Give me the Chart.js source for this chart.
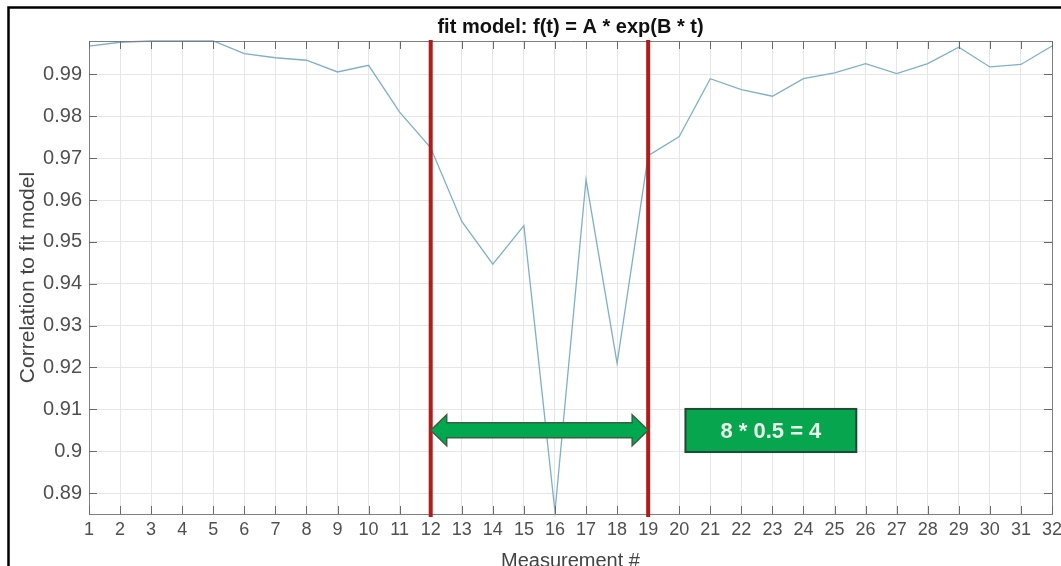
<!DOCTYPE html>
<html>
<head>
<meta charset="utf-8">
<title>fit model</title>
<script src="https://cdn.jsdelivr.net/npm/chart.js@4.4.1/dist/chart.umd.min.js"></script>
<style>
  html, body { margin: 0; padding: 0; background: #fff; }
  #wrap { width: 1061px; height: 566px; }
</style>
</head>
<body>
<div id="wrap"><canvas id="chart" width="1061" height="566"></canvas></div>
<script>
const measurements = [1, 2, 3, 4, 5, 6, 7, 8, 9, 10, 11, 12, 13, 14, 15, 16,
    17, 18, 19, 20, 21, 22, 23, 24, 25, 26, 27, 28, 29, 30, 31, 32];
const correlation = [0.9968, 0.9977, 0.9980, 0.9980, 0.9980, 0.9950, 0.9940, 0.9934,
    0.9906, 0.9922, 0.9810, 0.9725, 0.9549, 0.9447, 0.9539, 0.8856,
    0.9649, 0.9210, 0.9706, 0.9752, 0.9890, 0.9864, 0.9848, 0.9890,
    0.9904, 0.9926, 0.9902, 0.9926, 0.9965, 0.9918, 0.9924, 0.9968];
const yTicks = [0.89, 0.90, 0.91, 0.92, 0.93, 0.94, 0.95, 0.96, 0.97, 0.98, 0.99];

// window markers and the note
const windowMarks = [12, 19];
const arrowLevel = 0.905;
const noteText = '8 * 0.5 = 4';
const noteX = [20.2, 25.7];
const noteY = [0.8998, 0.9101];

Chart.defaults.font.family = "'Liberation Sans', Arial, Helvetica, sans-serif";

const overlay = {
    id: 'overlay',
    beforeDraw(chart) {
        const ctx = chart.ctx;
        ctx.save();
        ctx.fillStyle = '#fff';
        ctx.fillRect(0, 0, chart.width, chart.height);
        // outer frame (top and left edges visible)
        ctx.strokeStyle = '#000';
        ctx.lineWidth = 2.5;
        ctx.beginPath();
        ctx.moveTo(chart.width, 7.5);
        ctx.lineTo(8.5, 7.5);
        ctx.lineTo(8.5, chart.height);
        ctx.stroke();
        ctx.restore();
    },
    afterDatasetsDraw(chart) {
        const { ctx, chartArea: a, scales: { x, y } } = chart;
        ctx.save();

        // box: top and right axis lines
        ctx.strokeStyle = '#7f7f7f';
        ctx.lineWidth = 1;
        ctx.beginPath();
        ctx.moveTo(a.left, a.top + 0.5);
        ctx.lineTo(a.right + 0.5, a.top + 0.5);
        ctx.lineTo(a.right + 0.5, a.bottom);
        ctx.stroke();

        // inward tick marks on all four sides
        ctx.strokeStyle = '#6a6a6a';
        ctx.beginPath();
        measurements.forEach(m => {
            const px = Math.round(x.getPixelForValue(m)) + 0.5;
            ctx.moveTo(px, a.bottom); ctx.lineTo(px, a.bottom - 8);
            ctx.moveTo(px, a.top); ctx.lineTo(px, a.top + 8);
        });
        yTicks.forEach(v => {
            const py = Math.round(y.getPixelForValue(v)) + 0.5;
            ctx.moveTo(a.left, py); ctx.lineTo(a.left + 8, py);
            ctx.moveTo(a.right, py); ctx.lineTo(a.right - 8, py);
        });
        ctx.stroke();

        // red window lines
        ctx.strokeStyle = '#b31b1b';
        ctx.lineWidth = 4;
        ctx.beginPath();
        windowMarks.forEach(m => {
            const px = x.getPixelForValue(m);
            ctx.moveTo(px, a.top - 1);
            ctx.lineTo(px, a.bottom + 3);
        });
        ctx.stroke();

        // double-headed arrow
        const xl = x.getPixelForValue(windowMarks[0]);
        const xr = x.getPixelForValue(windowMarks[1]);
        const yc = y.getPixelForValue(arrowLevel);
        const hl = 16, hh = 15.5, sh = 7.5;
        ctx.beginPath();
        ctx.moveTo(xl, yc);
        ctx.lineTo(xl + hl, yc - hh);
        ctx.lineTo(xl + hl, yc - sh);
        ctx.lineTo(xr - hl, yc - sh);
        ctx.lineTo(xr - hl, yc - hh);
        ctx.lineTo(xr, yc);
        ctx.lineTo(xr - hl, yc + hh);
        ctx.lineTo(xr - hl, yc + sh);
        ctx.lineTo(xl + hl, yc + sh);
        ctx.lineTo(xl + hl, yc + hh);
        ctx.closePath();
        ctx.fillStyle = '#00a94f';
        ctx.fill();
        ctx.strokeStyle = '#3b5e3f';
        ctx.lineWidth = 1.5;
        ctx.stroke();

        // note box
        const bx0 = x.getPixelForValue(noteX[0]), bx1 = x.getPixelForValue(noteX[1]);
        const by0 = y.getPixelForValue(noteY[1]), by1 = y.getPixelForValue(noteY[0]);
        ctx.fillStyle = '#07a54e';
        ctx.fillRect(bx0, by0, bx1 - bx0, by1 - by0);
        ctx.strokeStyle = '#1e4a35';
        ctx.lineWidth = 2;
        ctx.strokeRect(bx0, by0, bx1 - bx0, by1 - by0);
        ctx.fillStyle = '#eaf6ea';
        ctx.font = "bold 22px 'Liberation Sans', Arial, sans-serif";
        ctx.textAlign = 'center';
        ctx.textBaseline = 'middle';
        ctx.fillText(noteText, (bx0 + bx1) / 2, (by0 + by1) / 2 + 1);

        ctx.restore();
    }
};

new Chart(document.getElementById('chart'), {
    type: 'line',
    data: {
        datasets: [{
            data: measurements.map((m, i) => ({ x: m, y: correlation[i] })),
            borderColor: '#7eb0cb',
            borderWidth: 1.3,
            pointRadius: 0,
            tension: 0,
            fill: false,
            clip: 4
        }]
    },
    options: {
        responsive: false,
        animation: false,
        devicePixelRatio: 1,
        layout: { padding: { left: 0, right: 9, top: 0, bottom: 0 } },
        plugins: {
            legend: { display: false },
            tooltip: { enabled: false },
            title: {
                display: true,
                text: 'fit model: f(t) = A * exp(B * t)',
                fullSize: false,
                color: '#111',
                font: { size: 20, weight: 'bold' },
                padding: { top: 15, bottom: 2 }
            }
        },
        scales: {
            x: {
                type: 'linear',
                min: 1,
                max: 32,
                afterBuildTicks: s => { s.ticks = measurements.map(v => ({ value: v })); },
                afterFit: s => { s.height = 52; s.paddingLeft = 0; s.paddingRight = 0; },
                grid: { color: '#e6e6e6', drawTicks: false },
                border: { color: '#7f7f7f', width: 1 },
                ticks: {
                    font: { size: 18 },
                    color: '#505050',
                    padding: 5,
                    maxRotation: 0,
                    autoSkip: false
                },
                title: {
                    display: true,
                    text: 'Measurement #',
                    font: { size: 20 },
                    color: '#444',
                    padding: { top: 0, bottom: -7 }
                }
            },
            y: {
                min: 0.885,
                max: 0.998,
                afterBuildTicks: s => { s.ticks = yTicks.map(v => ({ value: v })); },
                afterFit: s => { s.width = 89; s.paddingTop = 0; s.paddingBottom = 0; },
                grid: { color: '#e6e6e6', drawTicks: false },
                border: { color: '#7f7f7f', width: 1 },
                ticks: {
                    font: { size: 20 },
                    color: '#505050',
                    padding: 7,
                    autoSkip: false,
                    callback: v => String(Number(v.toFixed(2)))
                },
                title: {
                    display: true,
                    text: 'Correlation to fit model',
                    font: { size: 21 },
                    color: '#444',
                    padding: { top: 16, bottom: 0 }
                }
            }
        }
    },
    plugins: [overlay]
});
</script>
</body>
</html>
